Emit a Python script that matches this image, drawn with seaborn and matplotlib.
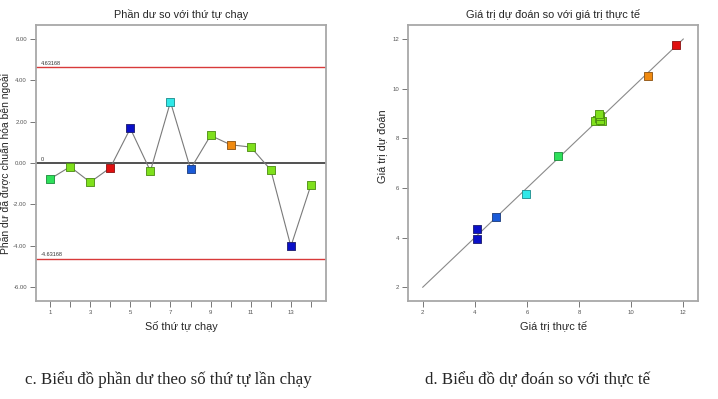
import matplotlib
matplotlib.use("Agg")
import matplotlib.pyplot as plt
import seaborn as sns
import pandas as pd
import numpy as np

sns.set_theme(style="white")
plt.rcParams['font.family'] = ['Liberation Sans', 'DejaVu Sans']

# ---- data ----
runs = [1, 2, 3, 4, 5, 6, 7, 8, 9, 10, 11, 12, 13, 14]
residuals = [-0.77, -0.18, -0.93, -0.23, 1.67, -0.39, 2.95, -0.29, 1.33, 0.88, 0.77, -0.34, -4.03, -1.06]
actual = [7.20, 8.70, 8.62, 11.71, 4.10, 8.78, 5.97, 4.81, 8.88, 10.65, 8.82, 8.80, 4.08, 8.78]
predicted = [7.30, 8.72, 8.68, 11.75, 3.94, 8.82, 5.74, 4.83, 8.70, 10.52, 8.72, 8.88, 4.35, 8.96]
color_group = ['teal', 'green', 'green', 'red', 'navy', 'green', 'cyan', 'blue', 'green', 'orange',
               'green', 'green', 'navy', 'green']
limit = 4.63168
left_yticks = [-6, -4, -2, 0, 2, 4, 6]
left_xticks = list(range(1, 15))
right_ticks = [2, 4, 6, 8, 10, 12]

palette = {'teal': '#2ee05a', 'green': '#7fe01c', 'red': '#e01010', 'navy': '#0a10c8',
           'cyan': '#30e8e8', 'blue': '#1a5ad8', 'orange': '#f08a10'}
edge = {'teal': '#1a8a3a', 'green': '#4a8a10', 'red': '#8a1010', 'navy': '#1a1a6a',
        'cyan': '#1a8a8a', 'blue': '#1a3a7a', 'orange': '#8a5010'}

df = pd.DataFrame({'run': runs, 'res': residuals, 'act': actual, 'pred': predicted, 'grp': color_group})

fig = plt.figure(figsize=(7.18, 3.99), dpi=100)
ax1 = fig.add_axes([36/718, 98/399, 290/718, 276/399])
ax2 = fig.add_axes([408/718, 98/399, 290/718, 276/399])

tick_col = '#555555'
spine_col = '#a8a8a8'

def style(ax):
    for s in ax.spines.values():
        s.set_color(spine_col)
        s.set_linewidth(1.3)
    ax.tick_params(axis='both', which='both', direction='out', length=4, width=0.7,
                   color='#777777', labelsize=4.3, labelcolor=tick_col, pad=2.5,
                   left=True, bottom=True)

# ---- left: residuals vs run ----
ax1.axhline(limit, color='#d83a3a', lw=1.0, zorder=1)
ax1.axhline(-limit, color='#d83a3a', lw=1.0, zorder=1)
ax1.axhline(0, color='#333333', lw=1.2, zorder=1)
sns.lineplot(data=df, x='run', y='res', ax=ax1, color='#7a7a7a', lw=0.8, zorder=2)
for g in palette:
    sub = df[df.grp == g]
    if len(sub):
        sns.scatterplot(data=sub, x='run', y='res', ax=ax1, marker='s', s=27,
                        color=palette[g], edgecolor=edge[g], linewidth=0.6, zorder=3)
ax1.text(0.55, limit + 0.12, '4.63168', fontsize=4, color='#333333')
ax1.text(0.55, -limit + 0.12, '-4.63168', fontsize=4, color='#333333')
ax1.text(0.55, 0.12, '0', fontsize=4, color='#333333')
ax1.set_xlim(0.3, 14.75)
ax1.set_ylim(-6.67, 6.67)
ax1.set_yticks(left_yticks)
ax1.set_yticklabels([f'{v:.2f}' for v in left_yticks])
ax1.set_xticks(left_xticks)
ax1.set_xticklabels([str(v) if v % 2 == 1 else '' for v in left_xticks])
style(ax1)
ax1.set_title('Phần dư so với thứ tự chạy', fontsize=7.8, pad=5)
ax1.set_xlabel('Số thứ tự chạy', fontsize=7.8, labelpad=4)
ax1.set_ylabel('Phần dư đã được chuẩn hóa bên ngoài', fontsize=7.5)
ax1.yaxis.set_label_coords(-0.086, 0.5)

# ---- right: predicted vs actual ----
diag = pd.DataFrame({'x': [2, 12], 'y': [2, 12]})
sns.lineplot(data=diag, x='x', y='y', ax=ax2, color='#8a8a8a', lw=0.8, zorder=1)
for g in palette:
    sub = df[df.grp == g]
    if len(sub):
        sns.scatterplot(data=sub, x='act', y='pred', ax=ax2, marker='s', s=27,
                        color=palette[g], edgecolor=edge[g], linewidth=0.6, zorder=3)
ax2.set_xlim(1.44, 12.56)
ax2.set_ylim(1.45, 12.56)
ax2.set_xticks(right_ticks)
ax2.set_yticks(right_ticks)
style(ax2)
ax2.set_title('Giá trị dự đoán so với giá trị thực tế', fontsize=7.9, pad=5)
ax2.set_xlabel('Giá trị thực tế', fontsize=7.9, labelpad=4)
ax2.set_ylabel('Giá trị dự đoán', fontsize=7.9)
ax2.yaxis.set_label_coords(-0.072, 0.56)

# ---- captions ----
fig.text(25/718, 1 - 380/399, 'c. Biểu đồ phần dư theo số thứ tự lần chạy', fontsize=12.2,
         family=['Liberation Serif', 'DejaVu Serif'], va='center', ha='left')
fig.text(425/718, 1 - 380/399, 'd. Biểu đồ dự đoán so với thực tế', fontsize=12.2,
         family=['Liberation Serif', 'DejaVu Serif'], va='center', ha='left')

fig.savefig('out.png', dpi=100)
